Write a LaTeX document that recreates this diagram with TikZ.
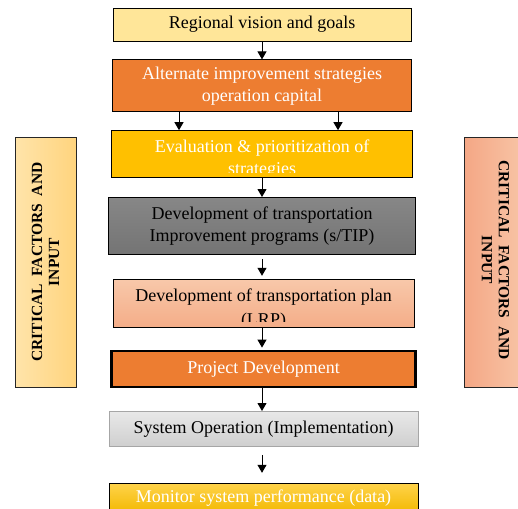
\documentclass[tikz,border=0pt]{standalone}
\usepackage{fontspec}
\setmainfont{Liberation Serif}
\usetikzlibrary{arrows.meta, positioning, calc}

\definecolor{visionyellow}{HTML}{FFE699}
\definecolor{altorange}{HTML}{ED7D31}
\definecolor{evalgold}{HTML}{FFC000}
\definecolor{tiptop}{HTML}{878787}
\definecolor{tipbottom}{HTML}{747474}
\definecolor{plantop}{HTML}{F8C8AA}
\definecolor{planbottom}{HTML}{F4AD88}
\definecolor{optop}{HTML}{E8E8E8}
\definecolor{opbottom}{HTML}{CFCFCF}
\definecolor{opborder}{HTML}{A6A6A6}
\definecolor{montop}{HTML}{FFD34A}
\definecolor{monbottom}{HTML}{F2B800}
\definecolor{leftlight}{HTML}{FFE4AA}
\definecolor{leftdark}{HTML}{FFD47E}
\definecolor{rightdark}{HTML}{F4A785}
\definecolor{rightlight}{HTML}{F8C6A8}

\begin{document}
\begin{tikzpicture}[x=1pt, y=1pt,
      every node/.style={inner sep=0pt, align=center, font=\fontsize{18}{22}\selectfont},
        stepbox/.style={draw=black, line width=0.8pt},
        sidebox/.style={draw=black!85, line width=0.8pt, minimum width=61pt, minimum height=250pt},
        sidetext/.style={font=\bfseries\fontsize{15.5}{17}\selectfont},
        arrow/.style={line width=1pt, -{Triangle[length=8pt,width=9pt]}}
          ]
        \useasboundingbox (0,0) rectangle (518,-508);

        % Critical factors on both sides
        \node (leftfactors) [sidebox, left color=leftlight, right color=leftdark] at (45.5,-262) {};
        \node (leftfactorstext) [sidetext, rotate=90] at (leftfactors.center) {CRITICAL\ \ FACTORS\ \ AND\\INPUT};
        \node (rightfactors) [sidebox, minimum width=63pt, left color=rightdark, right color=rightlight] at (495.5,-262) {};
        \node (rightfactorstext) [sidetext, rotate=-90] at ([yshift=2pt]rightfactors.center) {CRITICAL\ \ FACTORS\ \ AND\\INPUT};

        % Vision and strategies
        \node (vision) [stepbox, fill=visionyellow, minimum width=298pt, minimum height=33pt] at (262,-24.5) {Regional vision and goals};
        \node (alternate) [stepbox, fill=altorange, text=white, minimum width=299pt, minimum height=52pt, below=18pt of vision] {Alternate improvement strategies\\operation capital};
        \node (evaluation) [stepbox, fill=evalgold, minimum width=301pt, minimum height=47pt, below=18pt of alternate] {};
        \begin{scope}
          \clip ([shift={(0.5pt,6pt)}]evaluation.south west) rectangle ([shift={(-0.5pt,-0.5pt)}]evaluation.north east);
          \node (evaluationtext) [text=white] at ([yshift=-5pt]evaluation.center) {Evaluation \& prioritization of\\strategies};
        \end{scope}

        % Programs and plan
        \node (tip) [stepbox, top color=tiptop, bottom color=tipbottom, minimum width=307pt, minimum height=57pt, below=19pt of evaluation] {Development of transportation\\Improvement programs (s/TIP)};
        \node (plan) [stepbox, top color=plantop, bottom color=planbottom, minimum width=301pt, minimum height=48pt, below=24pt of tip, xshift=1.5pt] {};
        \begin{scope}
          \clip ([shift={(0.5pt,6pt)}]plan.south west) rectangle ([shift={(-0.5pt,-0.5pt)}]plan.north east);
          \node (plantext) [font=\fontsize{18}{24}\selectfont] at ([yshift=-6pt]plan.center) {Development of transportation plan\\(LRP)};
        \end{scope}

        % Project, operation and monitoring
        \node (project) [stepbox, line width=2.4pt, fill=altorange, text=white, minimum width=304pt, minimum height=36pt, below=22pt of plan] {Project Development};
        \node (operation) [draw=opborder, line width=0.8pt, top color=optop, bottom color=opbottom, minimum width=309pt, minimum height=35pt, below=23pt of project] {System Operation (Implementation)};
        \node (monitor) [stepbox, top color=montop, bottom color=monbottom, text=white, minimum width=309pt, minimum height=30pt, below=36pt of operation] {Monitor system performance (data)};

        % Arrows
        \draw [arrow] (vision.south) -- (alternate.north);
        \draw [arrow] ([xshift=-83pt]alternate.south) -- ([xshift=-83pt]evaluation.north);
        \draw [arrow] ([xshift=76pt]alternate.south) -- ([xshift=76pt]evaluation.north);
        \draw [arrow] (evaluation.south) -- (tip.north);
        \draw [arrow, shorten <=4pt, shorten >=3pt] (tip.south) -- (tip.south |- plan.north);
        \draw [arrow, shorten >=2pt] (tip.south |- plan.south) -- (tip.south |- project.north);
        \draw [arrow] (tip.south |- project.south) -- (tip.south |- operation.north);
        \draw [arrow, shorten <=8pt, shorten >=10pt] (tip.south |- operation.south) -- (tip.south |- monitor.north);

          \end{tikzpicture}
\end{document}
